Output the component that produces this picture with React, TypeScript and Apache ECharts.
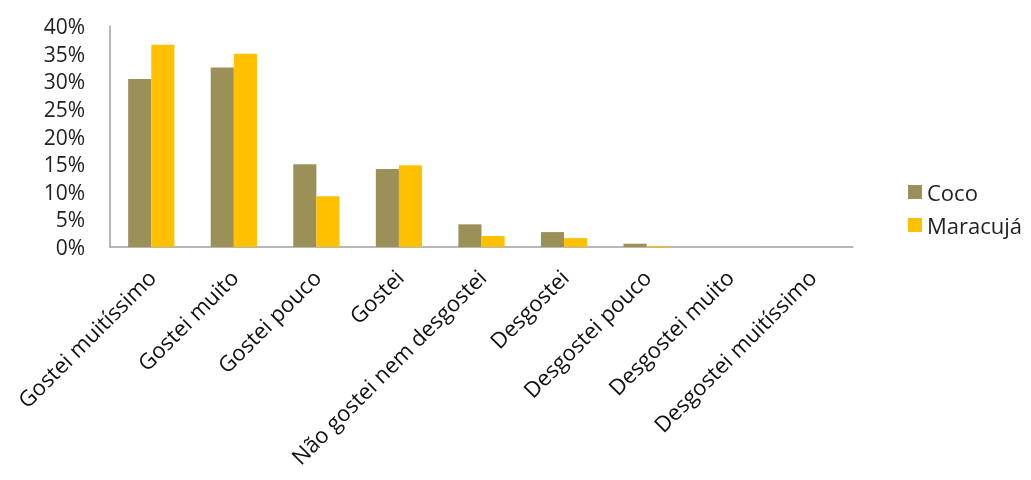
import React, { useEffect, useRef } from "react";
import * as echarts from "echarts";

const categories = [
  "Gostei muitíssimo",
  "Gostei muito",
  "Gostei pouco",
  "Gostei",
  "Não gostei nem desgostei",
  "Desgostei",
  "Desgostei pouco",
  "Desgostei muito",
  "Desgostei muitíssimo",
];
const coco = [30.4, 32.5, 15.0, 14.1, 4.1, 2.7, 0.6, 0, 0];
const maracuja = [36.6, 35.0, 9.2, 14.8, 2.0, 1.6, 0.2, 0, 0];
const yTicks = [0, 5, 10, 15, 20, 25, 30, 35, 40];

const FONT = "'Open Sans', 'Liberation Sans', sans-serif";

export default function App() {
  const ref = useRef<HTMLDivElement>(null);
  useEffect(() => {
    if (!ref.current) return;
    const chart = echarts.init(ref.current, null, { renderer: "svg" });
    chart.setOption({
      animation: false,
      grid: { left: 110, right: 178, top: 26, bottom: 233, containLabel: false },
      legend: {
        orient: "vertical",
        left: 903,
        top: 176,
        itemWidth: 14,
        itemHeight: 14,
        itemGap: 11,
        icon: "rect",
        textStyle: { fontFamily: FONT, fontSize: 22, color: "#222" },
        data: ["Coco", "Maracujá"],
      },
      xAxis: {
        type: "category",
        data: categories,
        axisLine: { lineStyle: { color: "#a0a0a0", width: 1.5 } },
        axisTick: { show: false },
        axisLabel: {
          rotate: 45,
          interval: 0,
          margin: 26,
          fontFamily: FONT,
          fontSize: 22,
          color: "#111",
        },
      },
      yAxis: {
        type: "value",
        min: yTicks[0],
        max: yTicks[yTicks.length - 1],
        interval: 5,
        axisLine: { show: true, lineStyle: { color: "#a0a0a0", width: 1.5 } },
        axisTick: { show: false },
        splitLine: { show: false },
        axisLabel: {
          formatter: "{value}%",
          margin: 25,
          fontFamily: FONT,
          fontSize: 21,
          color: "#222",
        },
      },
      series: [
        {
          name: "Coco",
          type: "bar",
          data: coco,
          barGap: "0%",
          barCategoryGap: "44%",
          itemStyle: { color: "#9C9059" },
        },
        {
          name: "Maracujá",
          type: "bar",
          data: maracuja,
          barGap: "0%",
          barCategoryGap: "44%",
          itemStyle: { color: "#FFC000" },
        },
      ],
    });
    return () => chart.dispose();
  }, []);
  return (
    <div
      ref={ref}
      style={{ position: "fixed", left: 0, top: 0, width: 1031, height: 480 }}
    />
  );
}
